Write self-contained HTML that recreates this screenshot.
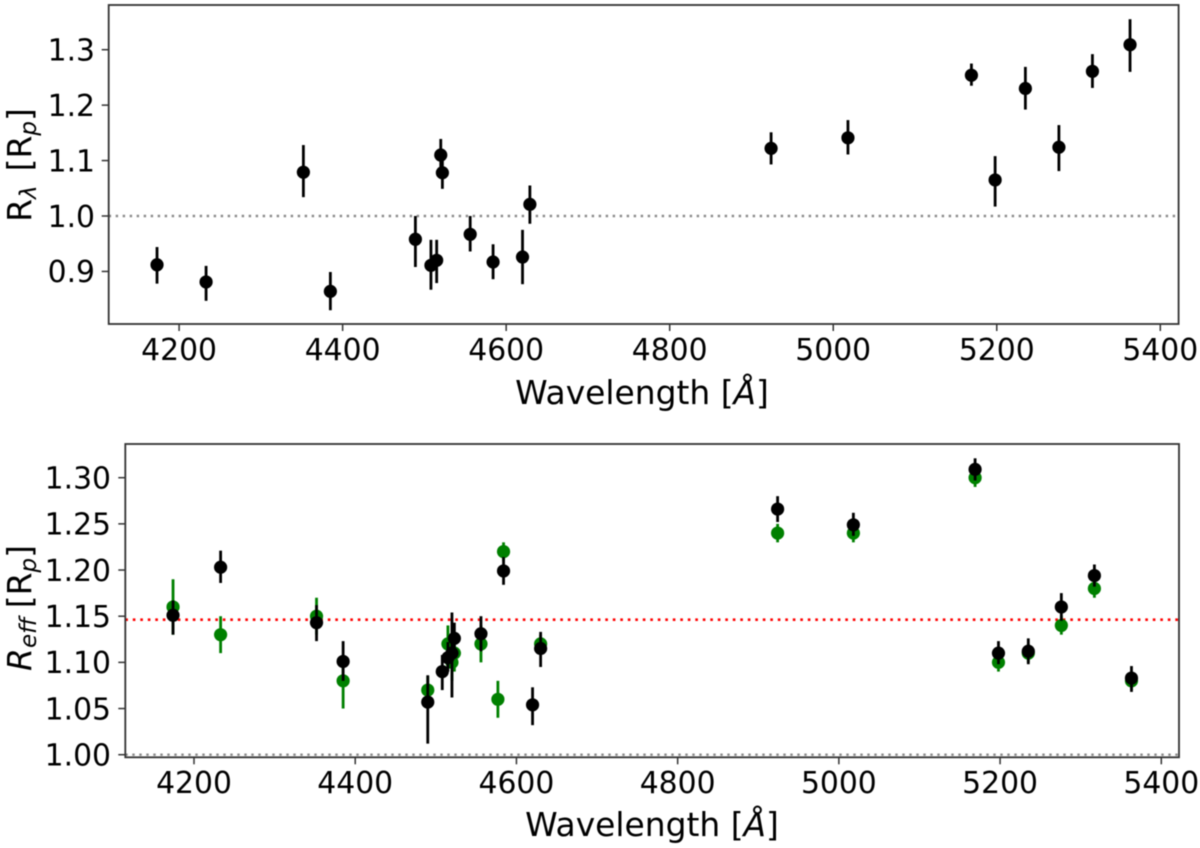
<!DOCTYPE html>
<html lang="en">
<head>
<meta charset="utf-8">
<title>Planet radius versus wavelength</title>
<style>
  html, body { margin: 0; padding: 0; background: #fff; }
  body { width: 1200px; height: 848px; overflow: hidden; }
  svg { display: block; filter: blur(0.5px); }
  text { font-family: "DejaVu Sans", "Liberation Sans", sans-serif; fill: #000; }
</style>
</head>
<body>
<svg id="chart" xmlns="http://www.w3.org/2000/svg" width="1200" height="848" viewBox="0 0 1200 848">
  <rect x="0" y="0" width="1200" height="848" fill="#fff"/>
  <g id="top-panel"></g>
  <g id="bottom-panel"></g>

  <text x="642" y="404" font-size="32.9" text-anchor="middle">Wavelength [<tspan font-style="italic">Å</tspan>]</text>
  <text transform="translate(31,165) rotate(-90)" font-size="33" text-anchor="middle">R<tspan font-size="23" font-style="italic" dy="5">λ</tspan><tspan dx="14" dy="-5">[R</tspan><tspan font-size="23" font-style="italic" dy="5">p</tspan><tspan dy="-5">]</tspan></text>

  <text x="652" y="836" font-size="32.9" text-anchor="middle">Wavelength [<tspan font-style="italic">Å</tspan>]</text>
  <text transform="translate(31,608) rotate(-90)" font-size="33" text-anchor="middle"><tspan font-style="italic">R</tspan><tspan font-size="23" font-style="italic" dy="5">eff</tspan><tspan dx="9" dy="-5">[R</tspan><tspan font-size="23" font-style="italic" dy="5">p</tspan><tspan dy="-5">]</tspan></text>
</svg>

<script>
// Shared tick labels
const xTickLabels = [4200, 4400, 4600, 4800, 5000, 5200, 5400];
const topYTickLabels = ['0.9', '1.0', '1.1', '1.2', '1.3'];
const bottomYTickLabels = ['1.00', '1.05', '1.10', '1.15', '1.20', '1.25', '1.30'];

// Top panel: R_lambda
const topWave = [4173, 4233, 4352, 4385, 4489, 4508, 4515, 4520, 4522, 4556, 4584, 4620, 4629, 4924, 5018, 5169, 5198, 5235, 5276, 5317, 5363];
const topRadius = [0.912, 0.881, 1.079, 0.864, 0.958, 0.911, 0.920, 1.110, 1.078, 0.967, 0.917, 0.926, 1.021, 1.122, 1.141, 1.254, 1.065, 1.230, 1.124, 1.261, 1.309];
const topLow = [0.878, 0.847, 1.034, 0.830, 0.908, 0.867, 0.879, 1.083, 1.049, 0.936, 0.886, 0.877, 0.986, 1.093, 1.111, 1.235, 1.017, 1.192, 1.081, 1.231, 1.260];
const topHigh = [0.944, 0.910, 1.128, 0.899, 1.000, 0.957, 0.957, 1.139, 1.106, 1.000, 0.949, 0.975, 1.055, 1.151, 1.173, 1.275, 1.108, 1.269, 1.164, 1.292, 1.355];

// Bottom panel: green series
const greenWave = [4174, 4233, 4352, 4385, 4490, 4515, 4520, 4523, 4556, 4577, 4584, 4630, 4924, 5018, 5169, 5198, 5235, 5276, 5317, 5363];
const greenRadius = [1.16, 1.13, 1.15, 1.08, 1.07, 1.12, 1.10, 1.11, 1.12, 1.06, 1.22, 1.12, 1.24, 1.24, 1.30, 1.10, 1.11, 1.14, 1.18, 1.08];
const greenLow = [1.13, 1.11, 1.13, 1.05, 1.055, 1.10, 1.08, 1.09, 1.10, 1.04, 1.21, 1.11, 1.23, 1.23, 1.29, 1.09, 1.10, 1.13, 1.17, 1.07];
const greenHigh = [1.19, 1.15, 1.17, 1.10, 1.085, 1.14, 1.12, 1.13, 1.14, 1.08, 1.23, 1.13, 1.25, 1.25, 1.31, 1.11, 1.12, 1.15, 1.19, 1.09];

// Bottom panel: black series
const blackWave = [4174, 4233, 4352, 4385, 4490, 4508, 4515, 4520, 4523, 4556, 4584, 4620, 4630, 4924, 5018, 5169, 5198, 5235, 5276, 5317, 5363];
const blackRadius = [1.151, 1.203, 1.143, 1.101, 1.057, 1.090, 1.105, 1.110, 1.126, 1.131, 1.199, 1.054, 1.115, 1.266, 1.249, 1.309, 1.110, 1.112, 1.160, 1.194, 1.083];
const blackLow = [1.130, 1.186, 1.123, 1.080, 1.012, 1.070, 1.090, 1.062, 1.108, 1.112, 1.184, 1.032, 1.095, 1.252, 1.237, 1.297, 1.098, 1.098, 1.145, 1.182, 1.068];
const blackHigh = [1.167, 1.221, 1.162, 1.123, 1.086, 1.108, 1.122, 1.154, 1.143, 1.150, 1.214, 1.073, 1.133, 1.280, 1.262, 1.321, 1.123, 1.126, 1.175, 1.206, 1.096];

// Reference lines
const unityRadius = 1.0;
const meanRadius = 1.1462;

const SVG_NS = 'http://www.w3.org/2000/svg';

function node(parent, tag, attrs) {
  const el = document.createElementNS(SVG_NS, tag);
  Object.keys(attrs).forEach(function (k) { el.setAttribute(k, attrs[k]); });
  parent.appendChild(el);
  return el;
}

function linearScale(d0, d1, r0, r1) {
  return function (v) { return r0 + (v - d0) * (r1 - r0) / (d1 - d0); };
}

function drawSeries(g, sx, sy, wave, radius, low, high, color, label) {
  wave.forEach(function (w, i) {
    const bar = node(g, 'line', {
      x1: sx(w), x2: sx(w), y1: sy(low[i]), y2: sy(high[i]),
      stroke: color, 'stroke-width': 2.8
    });
    
    
    const dot = node(g, 'circle', { cx: sx(w), cy: sy(radius[i]), r: 6.6, fill: color });
    
    
  });
}

function drawRefLine(g, box, sy, value, color, width, dash, label) {
  const line = node(g, 'line', {
    x1: box.left, x2: box.right, y1: sy(value), y2: sy(value),
    stroke: color, 'stroke-width': width, 'stroke-dasharray': dash
  });
  
  
}

function drawAxes(g, box, sx, sy, yLabels, yLabelRight, xLabelBaseline) {
  const frame = node(g, 'rect', {
    x: box.left, y: box.top, width: box.right - box.left, height: box.bottom - box.top,
    fill: 'none', stroke: '#333', 'stroke-width': 1.8
  });
  
  

  xTickLabels.forEach(function (t) {
    const tick = node(g, 'line', {
      x1: sx(t), x2: sx(t), y1: box.bottom, y2: box.bottom + 7,
      stroke: '#333', 'stroke-width': 1.5
    });
    
    
    const text = node(g, 'text', { x: sx(t), y: xLabelBaseline, 'font-size': 29.8, 'text-anchor': 'middle' });
    text.textContent = String(t);
    
    
  });

  yLabels.forEach(function (t) {
    const v = parseFloat(t);
    const tick = node(g, 'line', {
      x1: box.left - 7, x2: box.left, y1: sy(v), y2: sy(v),
      stroke: '#333', 'stroke-width': 1.5
    });
    
    
    const text = node(g, 'text', { x: yLabelRight, y: sy(v) + 10.8, 'font-size': 29.8, 'text-anchor': 'end' });
    text.textContent = t;
    
    
  });
}

// Top panel
(function () {
  const g = document.getElementById('top-panel');
  const box = { left: 108.7, right: 1178.6, top: 5, bottom: 324 };
  const sx = linearScale(4200, 5400, 179.1, 1160.3);
  const sy = linearScale(1.0, 1.3, 216, 49.7);
  drawRefLine(g, box, sy, unityRadius, '#8a8a8a', 2.4, '2.4 4.6', 'unity-reference-line');
  drawSeries(g, sx, sy, topWave, topRadius, topLow, topHigh, '#000', 'radius');
  drawAxes(g, box, sx, sy, topYTickLabels, 95, 360);
})();

// Bottom panel
(function () {
  const g = document.getElementById('bottom-panel');
  const box = { left: 125.3, right: 1179, top: 444, bottom: 757.3 };
  const sx = linearScale(4200, 5400, 194, 1161.3);
  const sy = linearScale(1.0, 1.3, 754.7, 477.7);
  drawRefLine(g, box, sy, unityRadius, '#8a8a8a', 2.4, '2.4 4.6', 'unity-reference-line');
  drawRefLine(g, box, sy, meanRadius, '#ff0000', 2.6, '2.6 4.9', 'mean-radius-line');
  drawSeries(g, sx, sy, greenWave, greenRadius, greenLow, greenHigh, '#008000', 'green-series');
  drawSeries(g, sx, sy, blackWave, blackRadius, blackLow, blackHigh, '#000', 'black-series');
  drawAxes(g, box, sx, sy, bottomYTickLabels, 111, 793);
})();
</script>
</body>
</html>
